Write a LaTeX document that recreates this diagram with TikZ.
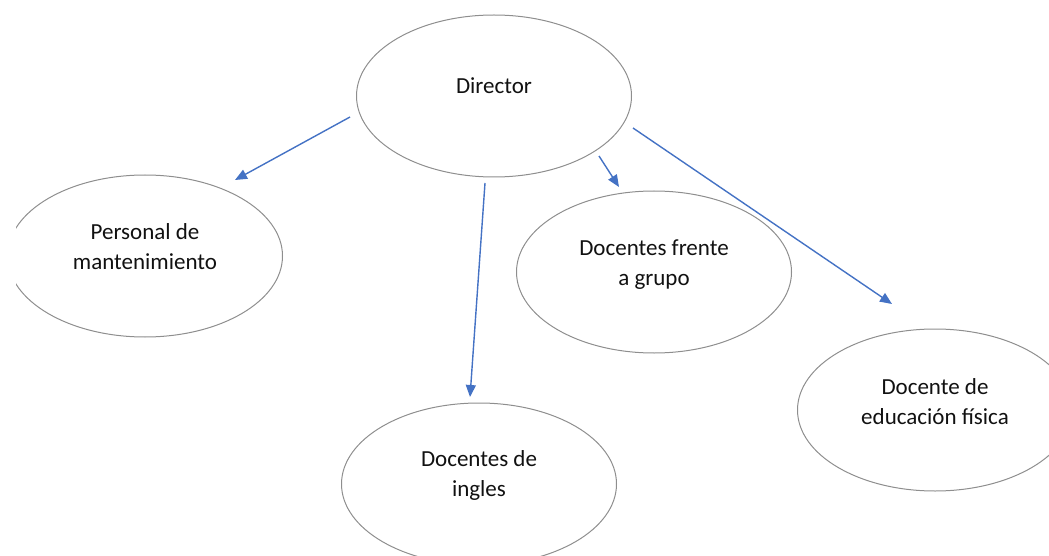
\documentclass[tikz,border=0pt]{standalone}
\usepackage{fontspec}
\setmainfont{Carlito}
\usetikzlibrary{arrows.meta,shapes.geometric}
\definecolor{arrowblue}{HTML}{4472C4}
\definecolor{ovalgray}{HTML}{8E8E8E}
\definecolor{txt}{HTML}{111111}
\begin{document}
\begin{tikzpicture}[x=1pt,y=-1pt,
  oval/.style={ellipse,draw=ovalgray,line width=1pt,minimum width=275pt,minimum height=162pt,inner sep=0pt},
  lbl/.style={align=center,text=txt,font=\fontsize{23}{30}\selectfont,inner sep=0pt},
  link/.style={draw=arrowblue,line width=1.4pt,-{Triangle[length=12pt,width=10pt]}}]
\useasboundingbox (0,0) rectangle (1049,556);
\begin{scope}
\clip (16,0) rectangle (1049,556);
\node[oval] (dir) at (494,96) {};
\node[oval] (pers) at (145,256) {};
\node[oval] (fren) at (654,272) {};
\node[oval] (fis) at (935,410) {};
\node[oval] (ing) at (479,484) {};
\end{scope}
\node[lbl] (dirt) at ([yshift=10pt]dir.center) {Director};
\node[lbl] (perst) at ([yshift=9pt]pers.center) {Personal de\\mantenimiento};
\node[lbl] (frent) at ([yshift=7pt]fren.center) {Docentes frente\\a grupo};
\node[lbl] (fist) at ([yshift=8pt]fis.center) {Docente de\\educación física};
\node[lbl] (ingt) at ([yshift=9pt]ing.center) {Docentes de\\ingles};
\coordinate (a1s) at (350,117); \coordinate (a1e) at (235,180);
\coordinate (a2s) at (485,183); \coordinate (a2e) at (470,397);
\coordinate (a3s) at (599,156); \coordinate (a3e) at (619,187);
\coordinate (a4s) at (633,128); \coordinate (a4e) at (892,304);
\draw[link] (a1s) -- (a1e);
\draw[link] (a2s) -- (a2e);
\draw[link] (a3s) -- (a3e);
\draw[link] (a4s) -- (a4e);
\end{tikzpicture}
\end{document}
